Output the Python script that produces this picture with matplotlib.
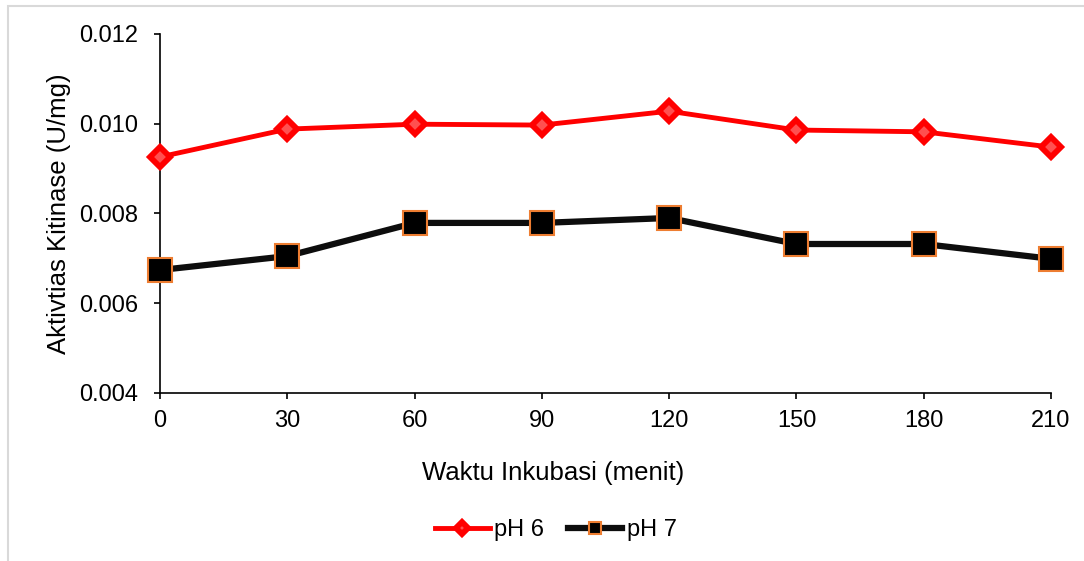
import matplotlib.pyplot as plt
from matplotlib.patches import Rectangle

plt.rcParams['font.family'] = ['Liberation Sans', 'DejaVu Sans']

### Data
waktu = [0, 30, 60, 90, 120, 150, 180, 210]
ph6   = [0.00926, 0.00988, 0.00999, 0.00997, 0.01028, 0.00986, 0.00982, 0.00948]
ph7   = [0.00674, 0.00705, 0.00779, 0.00779, 0.00790, 0.00732, 0.00732, 0.00699]
yticks = [0.004, 0.006, 0.008, 0.010, 0.012]

fig = plt.figure(figsize=(10.84, 5.61), dpi=100)
ax  = fig.add_axes([0.1476, 0.2995, 0.822, 0.6399])

### light frame around the chart area
fig.patches.append(Rectangle((7.5/1084, -0.1), 1.2, 1 - 5.5/561 + 0.1,
                             transform=fig.transFigure, fill=False,
                             edgecolor='#d9d9d9', linewidth=1.5))

ax.plot(waktu, ph6, color='#ff0000', linewidth=3.5,
        marker='D', markersize=10.5, markerfacecolor='#ff5050',
        markeredgecolor='#ff0000', markeredgewidth=4.2, label='pH 6', zorder=3)
ax.plot(waktu, ph7, color='#0d0d0d', linewidth=4.5,
        marker='s', markersize=17, markerfacecolor='#000000',
        markeredgecolor='#ed7d31', markeredgewidth=1.5, label='pH 7', zorder=3)

ax.set_xlim(0, 210)
ax.set_ylim(0.004, 0.012)
ax.set_xticks(waktu)
ax.set_yticks(yticks)
ax.set_yticklabels(['%.3f' % v for v in yticks])

for s in ['top', 'right']:
	ax.spines[s].set_visible(False)
for s in ['left', 'bottom']:
	ax.spines[s].set_linewidth(1.2)
	ax.spines[s].set_clip_on(False)

ax.tick_params(axis='both', direction='out', length=4.5, width=1.2,
               labelsize=17)
ax.tick_params(axis='y', pad=11)
ax.tick_params(axis='x', pad=8)

ax.set_xlabel('Waktu Inkubasi (menit)', fontsize=18.5, labelpad=22)
ax.xaxis.set_label_coords(0.441, -0.19)
ax.set_ylabel('Aktivtias Kitinase (U/mg)', fontsize=18.5, labelpad=6)

for line in ax.get_lines():
	line.set_clip_on(False)

ax.legend(loc='center', bbox_to_anchor=(0.513, 1 - 530/561),
          bbox_transform=fig.transFigure, ncol=2, frameon=False,
          fontsize=17, markerscale=0.55, handlelength=2.3,
          handletextpad=0.2, columnspacing=1.0)

plt.savefig('out.png', dpi=100)
